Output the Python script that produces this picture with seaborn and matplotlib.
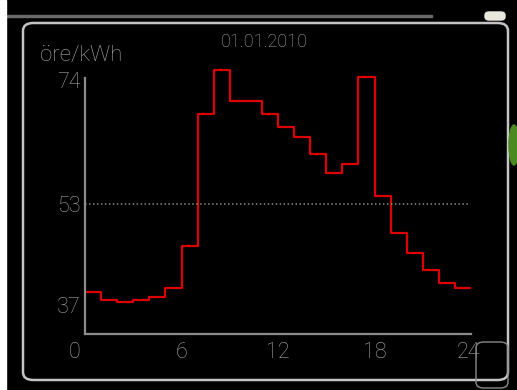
import numpy as np
import pandas as pd
import seaborn as sns
import matplotlib.pyplot as plt
from matplotlib.patches import FancyBboxPatch, Rectangle, Ellipse
from matplotlib.transforms import ScaledTranslation

## hourly price for one day (öre/kWh)
hours = list(range(25))
prices = [39.0, 37.7, 37.5, 37.7, 38.2, 39.7, 46.4, 67.3, 74.2, 69.3, 69.3, 67.3,
          65.3, 63.7, 60.9, 57.9, 59.4, 73.2, 54.3, 48.4, 45.2, 42.5, 40.5, 39.7]
avg_price = 53
y_ticks = [37, 53, 74]
x_ticks = [0, 6, 12, 18, 24]
title = "01.01.2010"
unit = "öre/kWh"

## step line needs the last value once more at hour 24
df = pd.DataFrame({"hour": hours, "price": prices + prices[-1:]})

sns.set_style("dark")
plt.rcParams['font.family'] = ['Roboto', 'DejaVu Sans']
plt.rcParams['font.weight'] = 'light'
grey = "#a8a8a8"

fig = plt.figure(figsize=(5.17, 3.90), dpi=100, facecolor="black")
ax = fig.add_axes([85/517, 56/390, 386/517, 274/390])
ax.set_facecolor("black")

sns.lineplot(data=df, x="hour", y="price", drawstyle="steps-post",
             color="#dc0000", linewidth=1.6, ax=ax)
ax.axhline(avg_price, xmin=0, xmax=0.997, color="#8a8a8a", lw=1.1,
           linestyle=(0, (1, 1.6)))

ax.set_xlim(0, 24)
ax.set_ylim(32.37, 75.86)
ax.grid(False)
ax.set_xlabel("")
ax.set_ylabel("")
for s in ["top", "right"]:
    ax.spines[s].set_visible(False)
for s in ["left", "bottom"]:
    ax.spines[s].set_visible(True)
    ax.spines[s].set_color("#8c8c8c")
    ax.spines[s].set_linewidth(1.6)
ax.spines["left"].set_bounds(32.37, 73.0)

ax.set_xticks(x_ticks)
ax.set_xticklabels([str(t) for t in x_ticks])
ax.set_yticks(y_ticks)
ax.set_yticklabels([str(t) for t in y_ticks])
ax.tick_params(length=0, colors=grey, labelsize=15.5)
ax.tick_params(axis="x", pad=6)
ax.tick_params(axis="y", pad=3)
## the screen draws the top label a bit lower and the "0" a bit left
yl = ax.get_yticklabels()
yl[-1].set_transform(yl[-1].get_transform() + ScaledTranslation(0, -0.08, fig.dpi_scale_trans))
xl = ax.get_xticklabels()
xl[0].set_transform(xl[0].get_transform() + ScaledTranslation(-0.10, 0, fig.dpi_scale_trans))
xl[-1].set_transform(xl[-1].get_transform() + ScaledTranslation(-0.03, 0, fig.dpi_scale_trans))

fig.text(264/517, 1 - 42/390, title, color=grey, fontsize=13, ha="center", va="center")
fig.text(40/517, 1 - 55/390, unit, color=grey, fontsize=16, ha="left", va="center")

## screen frame and bits around it
fig.patches.append(FancyBboxPatch((23/517, 1 - 380/390), 485/517, 357/390,
                                  boxstyle="round,pad=0,rounding_size=0.02",
                                  transform=fig.transFigure, fill=False,
                                  ec="#c4c4c4", lw=1.8))
fig.patches.append(Rectangle((7/517, 1 - 17/390), 425/517, 2.5/390,
                             transform=fig.transFigure, color="#6a6a6a"))
fig.patches.append(FancyBboxPatch((485/517, 1 - 20/390), 20/517, 8/390,
                                  boxstyle="round,pad=0,rounding_size=0.008",
                                  transform=fig.transFigure, color="#e8e8dc"))
fig.patches.append(Ellipse((514/517, 1 - 145/390), 10/517, 40/390,
                           transform=fig.transFigure, color="#4a8a20"))
fig.patches.append(FancyBboxPatch((476/517, 1 - 388/390), 32/517, 46/390,
                                  boxstyle="round,pad=0,rounding_size=0.015",
                                  transform=fig.transFigure, fill=False,
                                  ec="#8a8a8a", lw=1.0))
fig.patches.append(Rectangle((0, 0), 6/517, 1, transform=fig.transFigure,
                             color="white"))

fig.savefig("out.png", dpi=100, facecolor="black")
